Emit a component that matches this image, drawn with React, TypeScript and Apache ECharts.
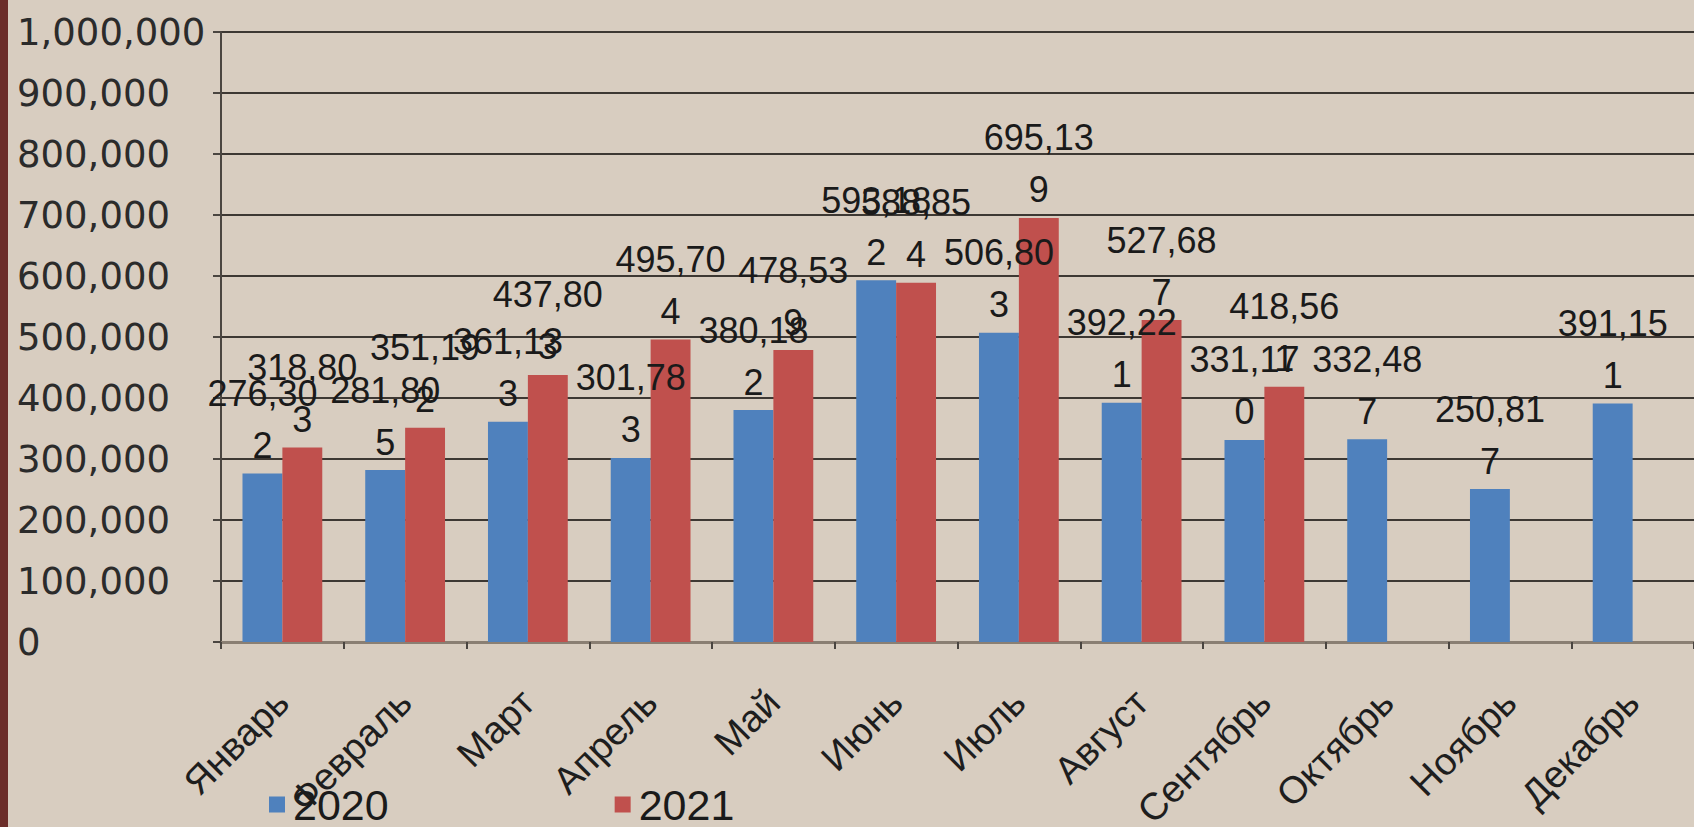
import React, { useEffect, useRef } from "react";
import * as echarts from "echarts";

const categories = [
  "Январь", "Февраль", "Март", "Апрель", "Май", "Июнь",
  "Июль", "Август", "Сентябрь", "Октябрь", "Ноябрь", "Декабрь",
];
const seriesNames = ["2020", "2021"];
const values2020 = [276302, 281805, 361133, 301783, 380182, 593182, 506803, 392221, 331170, 332487, 250817, 391151];
const values2021 = [318803, 351192, 437803, 495704, 478539, 588854, 695139, 527687, 418561, null, null, null];
const yMin = 0;
const yMax = 1000000;
const yInterval = 100000;

const fmt = (v: number) => v.toLocaleString("en-US");
const wrapLabel = (p: any) => {
  if (p.value == null) return "";
  const s = fmt(p.value);
  return s.slice(0, 6) + "\n" + s.slice(6);
};

export default function App() {
  const ref = useRef<HTMLDivElement>(null);
  useEffect(() => {
    if (!ref.current) return;
    const chart = echarts.init(ref.current, null, { renderer: "svg" });
    const labelStyle = {
      show: true,
      position: "top",
      distance: 2,
      formatter: wrapLabel,
      fontFamily: "Liberation Sans",
      fontSize: 36,
      lineHeight: 52,
      color: "#1a1a1a",
    };
    chart.setOption({
      animation: false,
      backgroundColor: "#d8cdc0",
      graphic: [
        { type: "rect", left: 0, top: 0, shape: { width: 8, height: 827 }, style: { fill: "#6b2d29" } },
      ],
      legend: {
        data: seriesNames,
        left: 269,
        top: 783,
        padding: 0,
        itemGap: 226,
        itemWidth: 16,
        itemHeight: 16,
        icon: "rect",
        textStyle: { fontFamily: "Liberation Sans", fontSize: 43, lineHeight: 42, color: "#1a1a1a", padding: [0, 0, 0, 3] },
      },
      grid: { left: 221, right: 0, top: 32, bottom: 185, containLabel: false, outerBoundsMode: "none" },
      xAxis: {
        type: "category",
        data: categories,
        boundaryGap: true,
        axisLine: { lineStyle: { color: "#8a7f73", width: 3 } },
        axisTick: { show: true, length: 7, lineStyle: { color: "#4a4540", width: 2 } },
        axisLabel: {
          rotate: 45,
          margin: 54,
          fontFamily: "Liberation Sans",
          fontSize: 38,
          color: "#1e1e1e",
          interval: 0,
        },
      },
      yAxis: {
        type: "value",
        min: yMin,
        max: yMax,
        interval: yInterval,
        axisLine: { show: true, lineStyle: { color: "#4a4540", width: 2 } },
        axisTick: { show: true, length: 8, lineStyle: { color: "#4a4540", width: 2 } },
        splitLine: { lineStyle: { color: "#3d3833", width: 2 } },
        axisLabel: {
          margin: 204,
          align: "left",
          formatter: (v: number) => fmt(v),
          fontFamily: "DejaVu Sans",
          fontSize: 37,
          color: "#2b2b2b",
        },
      },
      series: [
        {
          name: seriesNames[0],
          type: "bar",
          data: values2020,
          barGap: "0%",
          barCategoryGap: "35%",
          itemStyle: { color: "#4f81bd" },
          label: labelStyle,
        },
        {
          name: seriesNames[1],
          type: "bar",
          data: values2021,
          barGap: "0%",
          barCategoryGap: "35%",
          itemStyle: { color: "#c0504d" },
          label: labelStyle,
        },
      ],
    });
    return () => chart.dispose();
  }, []);
  return (
    <div
      ref={ref}
      style={{ position: "fixed", left: 0, top: 0, width: 1694, height: 827 }}
    />
  );
}
